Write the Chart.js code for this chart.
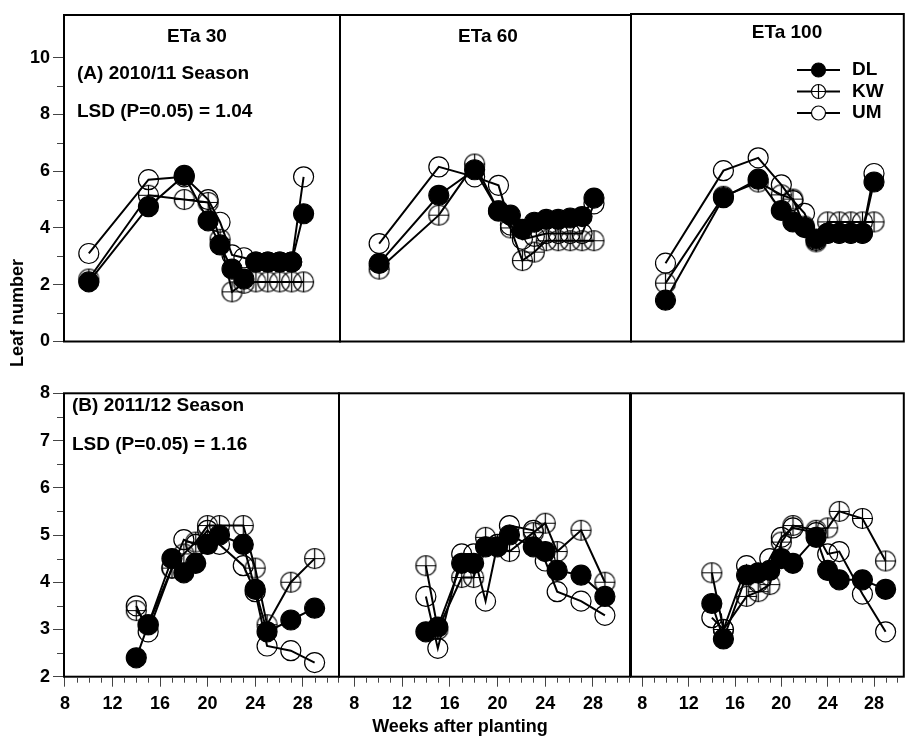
<!DOCTYPE html>
<html>
<head>
<meta charset="utf-8">
<title>Leaf number</title>
<script src="https://cdn.jsdelivr.net/npm/chart.js@4.4.0/dist/chart.umd.min.js"></script>
<style>
  body { margin: 0; background: #fff; }
  #wrap { position: relative; width: 915px; height: 741px; background: #fff; }
  #wrap canvas { position: absolute; left: 0; top: 0; }
</style>
</head>
<body>
<div id="wrap">
  <canvas id="a30" width="915" height="741"></canvas>
  <canvas id="a60" width="915" height="741"></canvas>
  <canvas id="a100" width="915" height="741"></canvas>
  <canvas id="b30" width="915" height="741"></canvas>
  <canvas id="b60" width="915" height="741"></canvas>
  <canvas id="b100" width="915" height="741"></canvas>
</div>
<script>
// weeks after planting
var weeksA = [10, 15, 18, 20, 21, 22, 23, 24, 25, 26, 27, 28];
var weeksB = [14, 15, 17, 18, 19, 20, 21, 23, 24, 25, 27, 29];

// (A) 2010/11 season
var dlA30 = [2.1, 4.75, 5.85, 4.25, 3.4, 2.55, 2.2, 2.8, 2.8, 2.8, 2.8, 4.5];
var kwA30 = [2.2, 5.15, 5.0, 4.9, 3.6, 1.75, 2.05, 2.1, 2.1, 2.1, 2.1, 2.1];
var umA30 = [3.1, 5.7, 5.8, 5.0, 4.2, 3.05, 2.95, 2.8, 2.8, 2.8, 2.8, 5.8];

var dlA60 = [2.75, 5.15, 6.05, 4.6, 4.45, 3.95, 4.2, 4.3, 4.3, 4.35, 4.4, 5.05];
var kwA60 = [2.55, 4.45, 6.25, 4.6, 4.0, 2.85, 3.15, 3.55, 3.55, 3.55, 3.55, 3.55];
var umA60 = [3.45, 6.15, 5.8, 5.5, 4.1, 3.6, 3.7, 3.8, 3.8, 3.8, 3.8, 4.85];

var dlA100 = [1.45, 5.05, 5.7, 4.6, 4.2, 4.0, 3.6, 3.8, 3.8, 3.8, 3.8, 5.6];
var kwA100 = [2.05, 5.1, 5.6, 5.15, 5.0, 4.05, 3.5, 4.2, 4.2, 4.2, 4.2, 4.2];
var umA100 = [2.75, 6.0, 6.45, 5.5, 4.95, 4.5, 3.55, 3.8, 3.8, 3.8, 3.8, 5.9];

// (B) 2011/12 season
var dlB30 = [2.4, 3.1, 4.5, 4.2, 4.4, 4.8, 5.0, 4.8, 3.85, 2.95, 3.2, 3.45];
var kwB30 = [3.4, 3.1, 4.3, 4.6, 4.85, 5.2, 5.2, 5.2, 4.3, 3.1, 4.0, 4.5];
var umB30 = [3.5, 2.95, 4.3, 4.9, 4.8, 5.1, 4.8, 4.35, 3.8, 2.65, 2.55, 2.3];

var dlB60 = [2.95, 3.05, 4.4, 4.4, 4.75, 4.75, 5.0, 4.75, 4.65, 4.25, 4.15, 3.7];
var kwB60 = [4.35, 3.0, 4.1, 4.1, 4.95, 4.8, 4.65, 5.05, 5.25, 4.65, 5.1, 4.0];
var umB60 = [3.7, 2.6, 4.6, 4.6, 3.6, 4.8, 5.2, 5.1, 4.45, 3.8, 3.6, 3.3];

var dlB100 = [3.55, 2.8, 4.15, 4.2, 4.25, 4.5, 4.4, 4.95, 4.25, 4.05, 4.05, 3.85];
var kwB100 = [4.2, 3.0, 3.7, 3.8, 3.95, 4.85, 5.2, 5.1, 5.15, 5.5, 5.35, 4.45];
var umB100 = [3.25, 3.0, 4.35, 4.0, 4.5, 4.95, 5.15, 5.05, 4.6, 4.65, 3.75, 2.95];

var cultivars = ['DL', 'KW', 'UM'];

// tick labels
var xMajor = [8, 12, 16, 20, 24, 28];
var xMinor = [9, 10, 11, 13, 14, 15, 17, 18, 19, 21, 22, 23, 25, 26, 27, 29, 30, 31];
var yMajorA = [0, 2, 4, 6, 8, 10];
var yMinorA = [1, 3, 5, 7, 9];
var yMajorB = [2, 3, 4, 5, 6, 7, 8];
var yMinorB = [2.5, 3.5, 4.5, 5.5, 6.5, 7.5];

var FONT = '"Liberation Sans", Arial, sans-serif';
var YW = 50, XH = 40;

// open circle with a plus inside (KW marker)
function crossCircle(r) {
    var s = 2 * r + 3;
    var c = document.createElement('canvas');
    c.width = s; c.height = s;
    var g = c.getContext('2d');
    var m = s / 2;
    g.strokeStyle = '#000';
    g.lineWidth = 1.2;
    g.beginPath();
    g.arc(m, m, r, 0, Math.PI * 2);
    g.stroke();
    g.beginPath();
    g.moveTo(m, m - r); g.lineTo(m, m + r);
    g.moveTo(m - r, m); g.lineTo(m + r, m);
    g.stroke();
    return c;
}
var kwMark = crossCircle(10);
var kwMarkSmall = crossCircle(7);

function pts(weeks, vals) {
    return weeks.map(function (w, i) { return { x: w, y: vals[i] }; });
}

function series(weeks, dl, kw, um) {
    var base = { borderColor: '#000', borderWidth: 2, tension: 0, pointRadius: 10, pointBorderWidth: 1.2, pointBorderColor: '#000' };
    return [
        Object.assign({ label: cultivars[0], data: pts(weeks, dl), pointStyle: 'circle', pointBackgroundColor: '#000' }, base),
        Object.assign({ label: cultivars[1], data: pts(weeks, kw), pointStyle: kwMark, pointBackgroundColor: 'rgba(0,0,0,0)' }, base),
        Object.assign({ label: cultivars[2], data: pts(weeks, um), pointStyle: 'circle', pointBackgroundColor: 'rgba(0,0,0,0)' }, base)
    ];
}

// box, minor ticks and texts
var panelDecor = {
    id: 'panelDecor',
    afterDraw: function (chart, args, o) {
        var ctx = chart.ctx, a = chart.chartArea;
        ctx.save();
        ctx.strokeStyle = '#000';
        ctx.lineWidth = 2;
        ctx.strokeRect(a.left, a.top, a.right - a.left, a.bottom - a.top);

        ctx.lineWidth = 1;
        ctx.strokeStyle = '#444';
        if (o.xMinor) {
            var sx = chart.scales.x;
            o.xMinor.forEach(function (v) {
                if (v < sx.min || v > sx.max) return;
                var px = Math.round(sx.getPixelForValue(v)) + 0.5;
                ctx.beginPath(); ctx.moveTo(px, a.bottom + 1); ctx.lineTo(px, a.bottom + 6); ctx.stroke();
            });
        }
        if (o.yMinor) {
            var sy = chart.scales.y;
            o.yMinor.forEach(function (v) {
                var py = Math.round(sy.getPixelForValue(v)) + 0.5;
                ctx.beginPath(); ctx.moveTo(a.left - 1, py); ctx.lineTo(a.left - 7, py); ctx.stroke();
            });
        }

        ctx.fillStyle = '#000';
        ctx.textBaseline = 'middle';
        (o.texts || []).forEach(function (t) {
            ctx.save();
            ctx.font = 'bold ' + (t.size || 19) + 'px ' + FONT;
            ctx.textAlign = t.align || 'left';
            ctx.translate(t.x, t.y);
            if (t.rot) ctx.rotate(t.rot);
            ctx.fillText(t.text, 0, 0);
            ctx.restore();
        });

        if (o.legend) {
            var lg = o.legend;
            chart.data.datasets.forEach(function (ds, i) {
                var y = lg.y + i * lg.gap;
                ctx.lineWidth = 2;
                ctx.strokeStyle = '#000';
                ctx.beginPath(); ctx.moveTo(lg.x, y); ctx.lineTo(lg.x + lg.len, y); ctx.stroke();
                var mx = lg.x + lg.len / 2;
                if (i === 1) {
                    ctx.fillStyle = '#fff';
                    ctx.beginPath(); ctx.arc(mx, y, 7, 0, Math.PI * 2); ctx.fill();
                    ctx.drawImage(kwMarkSmall, mx - kwMarkSmall.width / 2, y - kwMarkSmall.height / 2);
                } else {
                    ctx.lineWidth = 1.2;
                    ctx.fillStyle = i === 0 ? '#000' : '#fff';
                    ctx.beginPath(); ctx.arc(mx, y, 7, 0, Math.PI * 2); ctx.fill(); ctx.stroke();
                }
                ctx.fillStyle = '#000';
                ctx.font = 'bold 19px ' + FONT;
                ctx.textAlign = 'left';
                ctx.fillText(ds.label, lg.x + lg.len + 12, y);
            });
        }
        ctx.restore();
    }
};

function makePanel(id, p) {
    var showX = !!p.xAxis, showY = !!p.yAxis;
    var yMajor = p.yMajor || [];
    var pad = {
        left: p.box[0] - (showY ? YW : 0),
        top: p.box[1],
        right: 915 - p.box[2],
        bottom: 741 - p.box[3] - (showX ? XH : 0)
    };
    return new Chart(document.getElementById(id), {
        type: 'line',
        data: { datasets: p.datasets },
        options: {
            responsive: false,
            animation: false,
            layout: { padding: pad },
            plugins: {
                legend: { display: false },
                tooltip: { enabled: false },
                panelDecor: { xMinor: showX ? xMinor : null, yMinor: showY ? p.yMinor : null, texts: p.texts, legend: p.legend }
            },
            scales: {
                x: {
                    type: 'linear', min: p.xRange[0], max: p.xRange[1], display: showX,
                    afterBuildTicks: function (s) { s.ticks = xMajor.map(function (v) { return { value: v }; }); },
                    afterFit: function (s) { if (showX) s.height = XH; },
                    grid: { drawOnChartArea: false, drawTicks: true, tickLength: 10, color: '#444', lineWidth: 1 },
                    border: { display: false },
                    ticks: { autoSkip: false, maxRotation: 0, padding: 7, color: '#000', font: { family: FONT, size: 18, weight: 'bold' } }
                },
                y: {
                    type: 'linear', min: p.yRange[0], max: p.yRange[1], display: showY,
                    afterBuildTicks: function (s) { s.ticks = yMajor.map(function (v) { return { value: v }; }); },
                    afterFit: function (s) { if (showY) s.width = YW; },
                    grid: { drawOnChartArea: false, drawTicks: true, tickLength: 11, color: '#444', lineWidth: 1 },
                    border: { display: false },
                    ticks: { autoSkip: false, padding: 3, color: '#000', font: { family: FONT, size: 18, weight: 'bold' } }
                }
            }
        },
        plugins: [panelDecor]
    });
}

var rangeA = [0, 11.5], rangeB = [2, 8];

makePanel('a30', {
    box: [64, 15, 340, 341.5], xRange: [7.92, 31.05], yRange: rangeA, yAxis: true, yMajor: yMajorA, yMinor: yMinorA,
    datasets: series(weeksA, dlA30, kwA30, umA30),
    texts: [
        { text: 'ETa 30', x: 197, y: 37, align: 'center' },
        { text: '(A) 2010/11 Season', x: 77, y: 74 },
        { text: 'LSD (P=0.05) = 1.04', x: 77, y: 112 }
    ]
});
makePanel('a60', {
    box: [340, 15, 631, 341.5], xRange: [6.72, 31.1], yRange: rangeA,
    datasets: series(weeksA, dlA60, kwA60, umA60),
    texts: [{ text: 'ETa 60', x: 488, y: 37, align: 'center' }]
});
makePanel('a100', {
    box: [631, 14, 912, 341.5], xRange: [7.02, 30.57], yRange: rangeA,
    datasets: series(weeksA, dlA100, kwA100, umA100),
    texts: [{ text: 'ETa 100', x: 787, y: 33, align: 'center' }],
    legend: { x: 797, y: 70, gap: 21.5, len: 43 }
});
makePanel('b30', {
    box: [64, 393.3, 339, 676.7], xRange: [7.92, 31.05], yRange: rangeB, xAxis: true, yAxis: true, yMajor: yMajorB, yMinor: yMinorB,
    datasets: series(weeksB, dlB30, kwB30, umB30),
    texts: [
        { text: '(B) 2011/12 Season', x: 72, y: 406 },
        { text: 'LSD (P=0.05) = 1.16', x: 72, y: 445 },
        { text: 'Leaf number', x: 18, y: 313, align: 'center', rot: -Math.PI / 2, size: 18 },
        { text: 'Weeks after planting', x: 460, y: 727, align: 'center', size: 18 }
    ]
});
makePanel('b60', {
    box: [339, 393.3, 630, 676.7], xRange: [6.72, 31.1], yRange: rangeB, xAxis: true,
    datasets: series(weeksB, dlB60, kwB60, umB60)
});
makePanel('b100', {
    box: [631, 393.3, 912, 676.7], xRange: [7.02, 30.57], yRange: rangeB, xAxis: true,
    datasets: series(weeksB, dlB100, kwB100, umB100)
});
</script>
</body>
</html>
